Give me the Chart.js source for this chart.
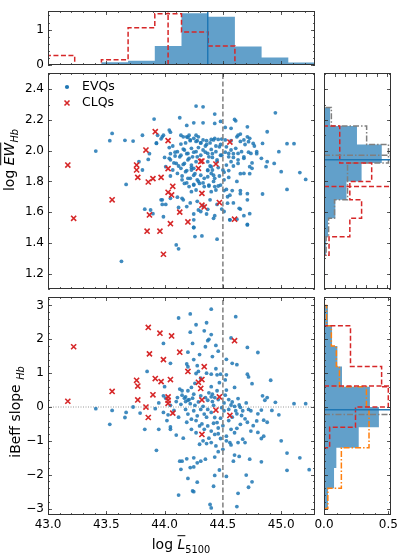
<!DOCTYPE html>
<html>
<head>
<meta charset="utf-8">
<script src="https://cdn.jsdelivr.net/npm/chart.js@4.4.1/dist/chart.umd.min.js"></script>
<style>
  body { margin: 0; background: #fff; }
  #wrap { position: relative; width: 399px; height: 560px; font-family: "DejaVu Sans", sans-serif; overflow: hidden; }
  canvas { position: absolute; left: 0; top: 0; }
  .lab { position: absolute; color: #000; white-space: nowrap; font-size: 14px; line-height: 1; }
  .rot { transform: translate(-50%, -50%) rotate(-90deg); }
  .hor { transform: translate(-50%, -50%); }
  .ov { text-decoration: overline; font-style: italic; }
  sub { font-size: 70%; }
</style>
</head>
<body>
<div id="wrap">
  <canvas id="cTop" width="399" height="560"></canvas>
  <canvas id="cMain" width="399" height="560"></canvas>
  <canvas id="cLow" width="399" height="560"></canvas>
  <canvas id="cRtop" width="399" height="560"></canvas>
  <canvas id="cRlow" width="399" height="560"></canvas>
  <div class="lab rot" style="left:11px; top:160px;">log <span class="ov">EW</span><sub><i>Hb</i></sub></div>
  <div class="lab rot" style="left:17px; top:412px;">iBeff slope <sub><i>Hb</i></sub></div>
  <div class="lab hor" style="left:181px; top:546px;">log <span class="ov">L</span><sub>5100</sub></div>
</div>
<script>
// ---- data ----
const lumCut = 44.5;

// top histogram of log L5100 (density)
const lumEdges = [43.0, 43.229, 43.458, 43.687, 43.916, 44.145, 44.374, 44.603, 44.832, 45.061, 45.29];
const lumHistEVQ = [0, 0.01, 0.08, 0.12, 0.54, 1.46, 1.36, 0.52, 0.21, 0.07];
const lumHistCLQ = [0.27, 0, 0.15, 1.05, 1.45, 0.93, 0.54, 0, 0, 0];
const lumMedEVQ = 44.37, lumMedCLQ = 44.03;

// right histogram of log EW (density)
const ewEdges = [1.20, 1.32, 1.44, 1.56, 1.68, 1.80, 1.92, 2.04, 2.16, 2.28, 2.40];
const ewHistEVQ = [0.05, 0.10, 0.19, 0.54, 1.07, 1.79, 2.75, 1.57, 0.29, 0];
const ewHistAll = [0, 0.10, 0.22, 0.50, 1.12, 1.12, 3.07, 2.03, 0.35, 0];
const ewHistCLQ = [0, 0.24, 1.23, 1.79, 1.23, 2.27, 0.75, 0.75, 0, 0];
const ewMedEVQ = 1.94, ewMedAll = 1.97, ewMedCLQ = 1.766;

// right histogram of iBeff slope (density)
const slopeEdges = [-3.0, -2.4, -1.8, -1.2, -0.6, 0, 0.6, 1.2, 1.8, 2.4, 3.0];
const slopeHistEVQ = [0.031, 0.078, 0.096, 0.27, 0.427, 0.357, 0.14, 0.104, 0.0625, 0.031];
const slopeHistAll = [0.03, 0.135, 0.135, 0.35, 0.35, 0.33, 0.12, 0.096, 0.057, 0.02];
const slopeHistCLQ = [0, 0, 0, 0.044, 0.245, 0.5, 0.448, 0.206, 0.206, 0];
const slopeMedEVQ = -0.08, slopeMedAll = -0.22, slopeMedCLQ = 0.62;

// scatter: [log L5100, log EW]
const evqEW = [
  [44.27,2.29],[44.33,2.285],[44.95,2.246],[44.43,2.238],[44.13,2.214],[43.91,2.205],[44.60,2.203],[44.61,2.194],
  [44.19,2.164],[44.25,2.181],[44.33,2.181],[44.43,2.177],[44.48,2.19],[44.52,2.151],[44.57,2.145],[44.71,2.155],
  [44.88,2.123],[44.04,2.134],[44.05,2.12],[43.55,2.112],[43.81,2.10],[43.94,2.10],[43.98,2.09],[43.97,2.077],
  [43.93,2.047],[43.53,2.065],[43.66,2.067],[43.73,2.062],[44.16,2.09],[44.20,2.086],[44.22,2.065],[44.14,2.043],
  [44.18,2.05],[44.27,2.10],[44.28,2.065],[44.31,2.05],[44.36,2.065],[44.40,2.073],[44.43,2.08],[44.46,2.073],
  [44.49,2.075],[44.57,2.065],[44.62,2.09],[44.65,2.108],[44.68,2.07],[44.71,2.09],[44.72,2.058],[44.76,2.047],
  [44.84,2.047],[45.05,2.045],[45.11,2.045],[44.04,2.02],[44.07,2.03],[43.41,1.997],[43.87,1.98],[43.86,1.943],
  [43.78,1.928],[43.81,1.874],[44.00,1.956],[44.04,1.95],[44.09,1.965],[44.11,1.993],[44.14,1.97],[44.17,2.004],
  [44.20,1.982],[44.23,2.015],[44.24,1.96],[44.27,1.993],[44.29,2.02],[44.31,1.97],[44.33,2.004],[44.35,2.03],
  [44.37,1.982],[44.40,2.008],[44.41,1.956],[44.44,1.993],[44.47,2.025],[44.48,1.97],[44.53,2.025],[44.55,1.982],
  [44.57,2.004],[44.59,1.956],[44.61,2.015],[44.63,1.982],[44.66,1.993],[44.68,1.95],[44.74,1.982],[44.79,1.993],
  [44.83,1.95],[44.88,1.928],[44.94,1.917],[44.98,1.993],[44.87,1.896],[44.75,1.885],[45.00,1.863],[45.16,1.857],
  [45.21,1.813],[45.05,1.748],[44.84,1.718],[44.71,1.68],[44.68,1.852],[44.73,1.896],[44.63,1.917],[44.57,1.928],
  [44.53,1.906],[44.50,1.874],[44.05,1.94],[44.10,1.917],[44.01,1.896],[44.07,1.874],[44.14,1.885],[44.17,1.917],
  [44.20,1.94],[44.23,1.906],[44.25,1.885],[44.27,1.928],[44.23,1.874],[44.37,1.928],[44.40,1.896],[44.37,1.874],
  [44.41,1.874],[44.45,1.928],[44.05,1.835],[44.11,1.852],[44.15,1.835],[44.18,1.863],[44.20,1.82],[44.25,1.84],
  [44.28,1.81],[44.31,1.84],[44.34,1.82],[44.37,1.83],[44.40,1.852],[44.43,1.82],[44.47,1.835],[44.51,1.81],
  [44.55,1.826],[44.17,1.787],[44.21,1.766],[44.25,1.776],[44.30,1.787],[44.34,1.766],[44.38,1.776],[44.43,1.766],
  [44.48,1.776],[44.23,1.733],[44.27,1.744],[44.40,1.733],[44.44,1.744],[44.53,1.748],[44.58,1.74],[44.54,1.70],
  [44.65,1.72],[44.11,1.697],[44.15,1.69],[44.05,1.69],[43.97,1.68],[43.98,1.65],[43.83,1.619],[43.88,1.614],
  [44.12,1.63],[44.19,1.636],[44.25,1.588],[44.29,1.614],[44.31,1.604],[44.36,1.588],[44.37,1.618],[44.43,1.577],
  [44.51,1.604],[44.54,1.658],[44.64,1.625],[44.56,1.55],[44.62,1.554],[44.68,1.577],[44.71,1.517],[44.25,1.50],
  [44.26,1.441],[44.32,1.445],[44.10,1.387],[44.12,1.361],[44.45,1.424],[43.63,1.28],[43.67,1.78],[43.90,1.59],
  [43.99,2.10],[43.93,2.05],[44.14,2.10],[44.19,2.09],[44.21,2.10],[44.22,2.07],[44.25,2.08],[44.27,2.06],
  [44.29,2.09],[44.31,2.05],[44.33,2.07],[44.36,2.04],[44.39,2.05],[44.42,2.07],[44.44,2.03],[44.48,2.04],
  [44.52,2.07],[44.63,2.10],[44.65,2.06],[44.69,2.04],[44.73,2.08],[44.77,2.03],[44.79,1.98],[44.05,1.98],
  [44.09,1.99],[44.13,1.96],[44.16,2.01],[44.19,1.98],[44.21,1.95],[44.25,1.99],[44.28,1.96],[44.35,1.99],
  [44.38,1.96],[44.41,1.98],[44.45,1.94],[44.49,1.97],[44.52,1.99],[44.55,1.96],[44.59,1.98],[44.63,1.94],
  [44.68,1.96],[44.72,1.99],[44.75,1.92],[44.08,1.92],[44.12,1.90],[44.16,1.91],[44.19,1.87],[44.23,1.89],
  [44.26,1.85],[44.37,1.87],[44.39,1.90],[44.42,1.84],[44.46,1.89],[44.51,1.86],[44.55,1.87],[44.59,1.90],
  [44.65,1.85],[44.73,1.85],[44.15,1.81],[44.19,1.79],[44.22,1.82],[44.25,1.78],[44.29,1.80],[44.33,1.79],
  [44.38,1.77],[44.42,1.80],[44.46,1.77],[44.51,1.74],[44.56,1.71],[44.62,1.80],[44.65,1.74],[44.71,1.72],
  [43.98,1.68],[44.01,1.65],[44.16,1.68],[44.22,1.66],[44.28,1.67],[44.33,1.64],[44.39,1.68],[44.45,1.65],
  [44.49,1.62],[44.59,1.66],[44.65,1.62],[44.73,1.59],[43.99,1.57],[44.25,1.55],[44.42,1.56],[44.56,1.55],
  [44.71,1.52],[44.25,1.50]
];
const clqEW = [
  [43.17,1.906],[43.22,1.56],[43.55,1.68],[43.76,1.906],[43.76,1.874],[43.77,1.826],[43.84,2.004],[43.86,1.796],
  [43.90,1.818],[43.92,2.123],[43.87,1.582],[43.85,1.476],[43.96,1.476],[43.97,1.826],[43.99,1.326],[44.03,2.065],
  [44.03,1.883],[44.03,1.729],[44.06,1.712],[44.07,1.768],[44.05,1.525],[44.13,1.60],[44.20,1.536],[44.29,1.885],
  [44.31,1.93],[44.32,1.932],[44.32,1.722],[44.32,1.645],[44.34,1.634],[44.44,1.913],[44.47,1.662],[44.56,2.056],
  [44.60,1.554]
];

// scatter: [log L5100, iBeff slope]
const evqSlope = [
  [44.40,2.89],[44.12,2.63],[44.22,2.75],[44.61,2.67],[44.27,2.43],[44.36,2.49],[44.34,2.25],[44.22,2.21],
  [44.40,2.14],[44.57,2.04],[44.37,1.96],[43.99,1.88],[44.24,1.88],[44.44,1.82],[44.35,1.78],[44.71,1.76],
  [44.80,1.61],[44.20,1.62],[44.41,1.49],[44.53,1.41],[44.05,1.29],[44.19,1.27],[44.20,1.19],[44.28,1.22],
  [44.44,1.13],[44.58,1.29],[44.62,1.25],[43.85,1.05],[44.27,0.99],[44.29,1.05],[44.40,0.97],[44.45,0.95],
  [44.48,0.97],[44.53,0.95],[44.71,0.97],[44.72,0.89],[44.75,0.69],[44.91,0.79],[44.60,0.58],[44.13,0.53],
  [44.15,0.48],[44.20,0.48],[44.23,0.58],[44.25,0.38],[44.40,0.60],[44.41,0.38],[44.45,0.48],[44.53,0.50],
  [43.99,0.33],[44.01,0.26],[44.10,0.16],[44.11,0.28],[44.17,0.26],[44.18,0.16],[44.20,0.20],[44.24,0.26],
  [44.31,0.33],[44.37,0.20],[44.40,0.30],[44.41,0.16],[44.43,0.28],[44.51,0.12],[44.57,0.06],[44.60,0.02],
  [44.64,0.06],[44.70,0.12],[44.84,0.33],[44.86,0.20],[44.95,0.14],[45.11,0.10],[45.21,0.10],[43.41,-0.05],
  [43.55,-0.10],[43.67,-0.16],[43.66,-0.31],[43.53,-0.51],[43.73,0.0],[43.79,-0.18],[43.83,-0.66],[43.93,-1.28],
  [43.95,-0.66],[43.99,-0.16],[44.03,-0.23],[44.05,-0.59],[44.05,-0.66],[44.10,-0.83],[44.16,-0.92],[44.18,-0.07],
  [44.20,-0.21],[44.23,-0.36],[44.25,-0.11],[44.28,-0.26],[44.31,-0.07],[44.34,-0.21],[44.37,-0.07],[44.40,-0.16],
  [44.43,-0.31],[44.45,-0.46],[44.48,-0.33],[44.51,-0.11],[44.55,-0.07],[44.61,-0.11],[44.65,-0.01],[44.67,-0.11],
  [44.72,-0.07],[44.74,-0.11],[44.83,-0.09],[44.98,-0.23],[44.23,-0.66],[44.27,-0.76],[44.30,-0.56],[44.34,-0.66],
  [44.37,-0.56],[44.40,-0.71],[44.43,-0.81],[44.46,-0.79],[44.48,-0.93],[44.53,-0.86],[44.57,-0.66],[44.60,-0.76],
  [44.62,-0.63],[44.65,-0.51],[44.71,-0.45],[44.74,-0.71],[44.79,-0.41],[44.85,-0.39],[44.83,-0.93],[44.85,-0.86],
  [44.33,-1.00],[44.36,-1.08],[44.40,-1.05],[44.53,-1.00],[44.56,-1.05],[44.63,-1.05],[44.69,-1.05],[45.00,-1.00],
  [44.46,-1.32],[44.57,-1.12],[44.43,-1.48],[44.60,-1.42],[44.64,-1.46],[44.73,-1.54],[44.83,-1.62],[45.05,-1.36],
  [45.16,-1.50],[44.13,-1.60],[44.15,-1.60],[44.19,-1.53],[44.25,-1.50],[44.28,-1.65],[44.31,-1.60],[44.35,-1.54],
  [44.14,-1.84],[44.22,-1.79],[44.25,-1.77],[44.47,-1.86],[44.53,-2.05],[44.70,-2.01],[45.05,-1.87],[45.24,-1.85],
  [44.20,-2.11],[44.28,-2.22],[44.43,-2.02],[44.42,-2.34],[44.75,-2.21],[44.72,-2.37],[44.63,-2.55],[44.24,-2.48],
  [44.25,-2.50],[44.12,-2.60],[44.39,-2.88],[44.40,-2.98],[44.62,-2.94],
  [44.15,0.35],[44.18,0.30],[44.21,0.22],[44.22,0.10],[44.26,0.05],[44.29,0.15],[44.33,0.02],[44.35,0.28],
  [44.38,0.42],[44.42,0.05],[44.46,0.22],[44.49,-0.02],[44.52,0.35],[44.55,0.22],[44.58,0.15],[44.63,0.25],
  [44.66,-0.25],[44.69,-0.35],[44.19,-0.45],[44.12,-0.30],[44.08,-0.10],[44.05,0.05],[44.14,0.08],[44.27,-0.40],
  [44.32,-0.50],[44.36,-0.30],[44.42,-0.48],[44.46,-0.62],[44.50,-0.55],[44.55,-0.40],[44.58,-0.30],[44.62,-0.20],
  [44.76,-0.55],[44.80,-0.75],[44.88,-0.45],[44.92,-0.10],[44.30,-1.10],[44.38,-0.92],[44.44,-1.15],[44.50,-1.25],
  [44.59,-1.60],[44.67,-0.95],[44.00,0.60],[43.95,0.12],[43.92,-0.05],[44.02,-0.40],[44.26,0.70],[44.31,0.85],
  [44.36,1.00],[44.47,0.72],[44.52,0.80],[44.25,1.40],[44.46,1.65],[44.38,2.00],[44.30,1.55],[44.88,0.28],[44.80,-0.20]
];
const clqSlope = [
  [43.22,1.78],[43.17,0.17],[43.55,0.46],[43.86,2.35],[43.96,2.18],[44.06,2.10],[43.87,1.57],[43.99,1.40],
  [44.13,1.62],[43.76,0.79],[43.77,0.62],[43.92,0.84],[43.97,0.75],[44.05,0.81],[44.20,1.05],[44.34,1.19],
  [44.32,0.81],[44.29,0.73],[44.31,0.55],[43.77,0.21],[43.90,0.36],[43.84,0.0],[43.86,-0.31],[44.03,0.30],
  [44.03,0.20],[44.03,0.11],[44.07,-0.18],[44.32,0.21],[44.47,0.30],[44.44,-0.09],[44.56,-0.25],[44.32,-0.81],
  [44.60,1.96]
];

// ---- styling ----
const W = 399, H = 560;
const blue = '#1f77b4', red = '#d62728', orange = '#ff7f0e', grey = '#7f7f7f';
const blueFill = 'rgba(31,119,180,0.7)';
const FONT = 'DejaVu Sans';
Chart.defaults.font.family = FONT;
Chart.defaults.color = '#000';

const lumAxis = { min: 43.0, max: 45.29, step: 0.5, dec: 1, major: 0.5, minor: 0.1 };
const ewAxis = { min: 1.10, max: 2.505, step: 0.2, dec: 1, major: 0.2, minor: 0.1 };
const slopeAxis = { min: -3.19, max: 3.25, step: 1, dec: 0, major: 1, minor: 0.2 };

const fmt = (v, d) => v.toFixed(d).replace('-', '\u2212');

// inward ticks on all four sides plus the frame
const tickMarks = {
  id: 'tickMarks',
  afterDraw(chart, args, o) {
    const { ctx, chartArea: a, scales } = chart;
    ctx.save();
    ctx.strokeStyle = '#333';
    ctx.lineWidth = 0.8;
    ctx.beginPath();
    const marks = (scale, step, len) => {
      const n0 = Math.ceil(scale.min / step - 1e-6), n1 = Math.floor(scale.max / step + 1e-6);
      for (let k = n0; k <= n1; k++) {
        const p = Math.round(scale.getPixelForValue(k * step)) + 0.5;
        if (scale.isHorizontal()) {
          ctx.moveTo(p, a.bottom); ctx.lineTo(p, a.bottom - len);
          ctx.moveTo(p, a.top); ctx.lineTo(p, a.top + len);
        } else {
          ctx.moveTo(a.left, p); ctx.lineTo(a.left + len, p);
          ctx.moveTo(a.right, p); ctx.lineTo(a.right - len, p);
        }
      }
    };
    marks(scales.x, o.x[0], 4); marks(scales.x, o.x[1], 2);
    marks(scales.y, o.y[0], 4); marks(scales.y, o.y[1], 2);
    ctx.stroke();
    ctx.lineWidth = 1;
    ctx.strokeRect(a.left + 0.5, a.top + 0.5, a.right - a.left - 1, a.bottom - a.top - 1);
    ctx.restore();
  }
};

const legendMarks = {
  id: 'legendMarks',
  afterDraw(chart) {
    const ctx = chart.ctx;
    ctx.save();
    ctx.fillStyle = blue;
    ctx.beginPath(); ctx.arc(67, 87, 2.1, 0, Math.PI * 2); ctx.fill();
    ctx.strokeStyle = red; ctx.lineWidth = 1.6;
    ctx.beginPath();
    ctx.moveTo(64.5, 100.5); ctx.lineTo(69.5, 105.5);
    ctx.moveTo(69.5, 100.5); ctx.lineTo(64.5, 105.5);
    ctx.stroke();
    ctx.fillStyle = '#000';
    ctx.font = '12.5px "' + FONT + '"';
    ctx.textBaseline = 'middle';
    ctx.fillText('EVQs', 82, 87);
    ctx.fillText('CLQs', 82, 103);
    ctx.restore();
  }
};

function axis(s, show, which) {
  return {
    type: 'linear', min: s.min, max: s.max, display: show,
    grid: { display: false, drawTicks: false }, border: { display: false },
    ticks: {
      stepSize: s.step, includeBounds: false, autoSkip: false, maxRotation: 0,
      padding: which === 'x' ? 3 : 4, color: '#000', font: { family: FONT, size: 12 },
      callback: v => fmt(v, s.dec)
    },
    afterFit(sc) {
      if (show) { if (which === 'x') sc.height = 26; else sc.width = 44; }
      sc.paddingLeft = sc.paddingRight = sc.paddingTop = sc.paddingBottom = 0;
    }
  };
}

function panel(id, rect, sx, sy, showX, showY, datasets, extra) {
  return new Chart(document.getElementById(id), {
    type: 'scatter',
    data: { datasets },
    options: {
      responsive: false, animation: false, devicePixelRatio: 1, events: [],
      layout: { padding: { left: rect.l - (showY ? 44 : 0), top: rect.t, right: W - rect.r, bottom: H - rect.b - (showX ? 26 : 0) } },
      plugins: { legend: { display: false }, tooltip: { enabled: false },
        tickMarks: { x: [sx.major, sx.minor], y: [sy.major, sy.minor] } },
      scales: { x: axis(sx, showX, 'x'), y: axis(sy, showY, 'y') }
    },
    plugins: [tickMarks].concat(extra || [])
  });
}

const dots = (pts, order) => ({
  data: pts.map(p => ({ x: p[0], y: p[1] })), order,
  pointRadius: 1.9, pointBackgroundColor: 'rgba(31,119,180,0.85)', pointBorderWidth: 0
});
const crosses = (pts, order) => ({
  data: pts.map(p => ({ x: p[0], y: p[1] })), order,
  pointStyle: 'crossRot', pointRadius: 3.6, pointBorderColor: red, pointBorderWidth: 1.6
});
const line = (pts, color, dash, order, width) => ({
  data: pts, showLine: true, order, pointRadius: 0, borderColor: color,
  borderWidth: width || 1.5, borderDash: dash, fill: false, tension: 0
});
const vStep = (edges, vals) => {
  const pts = [{ x: edges[0], y: 0 }];
  vals.forEach((v, i) => pts.push({ x: edges[i], y: v }, { x: edges[i + 1], y: v }));
  pts.push({ x: edges[edges.length - 1], y: 0 });
  return pts;
};
const hStep = (edges, vals) => {
  const pts = [{ x: 0, y: edges[0] }];
  vals.forEach((v, i) => pts.push({ x: v, y: edges[i] }, { x: v, y: edges[i + 1] }));
  pts.push({ x: 0, y: edges[edges.length - 1] });
  return pts;
};
const filled = (pts, order) => ({
  data: pts, showLine: true, order, pointRadius: 0, borderWidth: 0,
  backgroundColor: blueFill, fill: 'shape', tension: 0
});
const vLine = (x, y0, y1) => [{ x, y: y0 }, { x, y: y1 }];
const hLine = (y, x0, x1) => [{ x: x0, y }, { x: x1, y }];

const DASH = [5, 2.5], DASHDOT = [6, 2, 1.5, 2];

// top histogram
const topY = { min: 0, max: 1.525, step: 1, dec: 0, major: 1, minor: 0.2 };
panel('cTop', { l: 48, t: 11, r: 315, b: 65 }, lumAxis, topY, false, true, [
  filled(vStep(lumEdges, lumHistEVQ), 5),
  line(vStep(lumEdges, lumHistCLQ), red, DASH, 2),
  line(vLine(lumMedEVQ, topY.min, topY.max), blue, [], 1),
  line(vLine(lumMedCLQ, topY.min, topY.max), red, DASH, 1)
]);

// main scatter: log EW
panel('cMain', { l: 48, t: 73, r: 315, b: 289 }, lumAxis, ewAxis, false, true, [
  line(vLine(lumCut, ewAxis.min, ewAxis.max), grey, DASH, 0),
  crosses(clqEW, 1),
  dots(evqEW, 2)
], [legendMarks]);

// lower scatter: iBeff slope
panel('cLow', { l: 48, t: 297, r: 315, b: 515 }, lumAxis, slopeAxis, true, true, [
  line(vLine(lumCut, slopeAxis.min, slopeAxis.max), grey, DASH, 0),
  crosses(clqSlope, 1),
  dots(evqSlope, 2),
  line(hLine(0, lumAxis.min, lumAxis.max), grey, [1, 1.5], 3, 0.8)
]);

// right histogram of log EW
const rTopX = { min: 0, max: 3.19, step: 1, dec: 0, major: 0.5, minor: 0.5 };
panel('cRtop', { l: 324, t: 73, r: 391, b: 289 }, rTopX, ewAxis, false, false, [
  filled(hStep(ewEdges, ewHistEVQ), 6),
  line(hStep(ewEdges, ewHistAll), grey, DASHDOT, 4),
  line(hStep(ewEdges, ewHistCLQ), red, DASH, 3),
  line(hLine(ewMedAll, rTopX.min, rTopX.max), grey, DASHDOT, 2),
  line(hLine(ewMedEVQ, rTopX.min, rTopX.max), blue, [], 1),
  line(hLine(ewMedCLQ, rTopX.min, rTopX.max), red, DASH, 1)
]);

// right histogram of iBeff slope
const rLowX = { min: 0, max: 0.521, step: 0.5, dec: 1, major: 0.5, minor: 0.1 };
panel('cRlow', { l: 324, t: 297, r: 391, b: 515 }, rLowX, slopeAxis, true, false, [
  filled(hStep(slopeEdges, slopeHistEVQ), 6),
  line(hStep(slopeEdges, slopeHistAll), orange, DASHDOT, 4),
  line(hStep(slopeEdges, slopeHistCLQ), red, DASH, 3),
  line(hLine(slopeMedAll, rLowX.min, rLowX.max), grey, DASHDOT, 2),
  line(hLine(slopeMedEVQ, rLowX.min, rLowX.max), blue, [], 1),
  line(hLine(slopeMedCLQ, rLowX.min, rLowX.max), red, DASH, 1)
]);
</script>
</body>
</html>
